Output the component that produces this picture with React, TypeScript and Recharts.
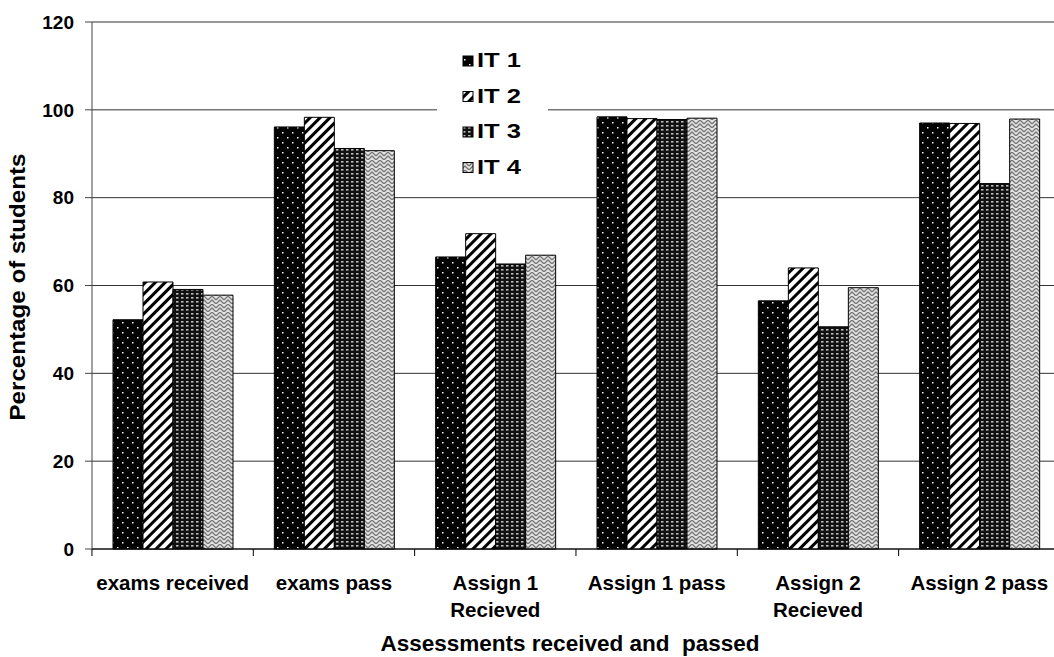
import React from 'react';
import { BarChart, Bar, XAxis, YAxis, CartesianGrid, Legend } from 'recharts';

const categories = ['exams received', 'exams pass', 'Assign 1\nRecieved', 'Assign 1 pass', 'Assign 2\nRecieved', 'Assign 2 pass'];
const it1 = [52.2, 96.1, 66.5, 98.4, 56.5, 97.0];
const it2 = [60.8, 98.3, 71.8, 98.0, 64.0, 96.9];
const it3 = [59.1, 91.2, 64.9, 97.8, 50.6, 83.2];
const it4 = [57.8, 90.7, 66.9, 98.1, 59.5, 97.9];
const seriesNames = ['IT 1', 'IT 2', 'IT 3', 'IT 4'];
const yTicks = [0, 20, 40, 60, 80, 100, 120];

const data = categories.map((c, i) => ({ name: c, it1: it1[i], it2: it2[i], it3: it3[i], it4: it4[i] }));

const FONT = 'Arial, "Liberation Sans", sans-serif';

const Patterns = ({ p }: { p: string }) => (
  <defs>
    <pattern id={`${p}pat1`} width="10" height="10" patternUnits="userSpaceOnUse">
      <rect width="10" height="10" fill="#000" />
      <rect x="2" y="2" width="1.5" height="1.5" fill="#fff" />
      <rect x="7" y="7" width="1.5" height="1.5" fill="#fff" />
    </pattern>
    <pattern id={`${p}pat2`} width="7" height="7" patternUnits="userSpaceOnUse" patternTransform="rotate(45)">
      <rect width="7" height="7" fill="#fff" />
      <rect x="0" y="0" width="3" height="7" fill="#000" />
    </pattern>
    <pattern id={`${p}pat3`} width="5" height="4" patternUnits="userSpaceOnUse">
      <rect width="5" height="4" fill="#111" />
      <rect x="1" y="1" width="2.5" height="1.6" fill="#bbb" />
    </pattern>
    <pattern id={`${p}pat4`} width="8" height="8" patternUnits="userSpaceOnUse">
      <rect width="8" height="8" fill="#e4e4e4" />
      <path d="M0 4 L4 0 L8 4 M0 8 L4 4 L8 8" stroke="#777" strokeWidth="1.3" fill="none" />
    </pattern>
  </defs>
);

const XTick = (props: any) => {
  const { x, payload, index, visibleTicksCount } = props;
  const band = 161.4;
  const lines = String(payload.value).split('\n');
  const axisY = 549;
  return (
    <g>
      <line x1={x - band / 2} y1={axisY} x2={x - band / 2} y2={axisY + 7} stroke="#000" />
      {index === visibleTicksCount - 1 && (
        <line x1={x + band / 2} y1={axisY} x2={x + band / 2} y2={axisY + 7} stroke="#000" />
      )}
      <text x={x} y={axisY + 41} textAnchor="middle" fontFamily={FONT} fontWeight="bold" fontSize={20.5} fill="#000">
        {lines.map((l, i) => (
          <tspan key={i} x={x} dy={i === 0 ? 0 : 27}>{l}</tspan>
        ))}
      </text>
    </g>
  );
};

const LegendContent = () => (
  <div style={{ background: '#fff', width: 111, height: 140, position: 'relative' }}>
    <svg width={111} height={140} style={{ position: 'absolute', left: 0, top: 0 }}>
      <Patterns p="lg" />
      {seriesNames.map((n, i) => (
        <g key={n}>
          <rect x={26} y={14 + i * 35.5} width={10} height={10} fill={`url(#lgpat${i + 1})`} stroke="#000" strokeWidth={1} />
          <text x={40} y={25 + i * 35.5} fontFamily={FONT} fontWeight="bold" fontSize={21} textLength={44} lengthAdjust="spacingAndGlyphs" fill="#000">{n}</text>
        </g>
      ))}
    </svg>
  </div>
);

export default function App() {
  return (
    <div style={{ position: 'fixed', left: 0, top: 0, background: '#fff', width: 1054, height: 657, overflow: 'hidden' }}>
      <BarChart
        width={1054}
        height={657}
        data={data}
        margin={{ top: 22, right: -6, bottom: 0, left: 32 }}
        barCategoryGap={21}
        barGap={0}
      >
        <Patterns p="ch" />
        <CartesianGrid vertical={false} stroke="#333" strokeWidth={1} />
        <XAxis
          dataKey="name"
          tickLine={false}
          axisLine={{ stroke: '#000' }}
          interval={0}
          tick={<XTick />}
          height={108}
          label={{
            content: () => (
              <text x={570} y={651} textAnchor="middle" fontFamily={FONT} fontWeight="bold" fontSize={22.5} fill="#000" style={{ whiteSpace: 'pre' }}>
                {'Assessments received and  passed'}
              </text>
            ),
          }}
        />
        <YAxis
          width={60}
          domain={[0, 120]}
          ticks={yTicks}
          interval={0}
          axisLine={{ stroke: '#444' }}
          tickLine={{ stroke: '#444' }}
          tickSize={7}
          tickMargin={11}
          tick={{ fontFamily: FONT, fontWeight: 'bold', fontSize: 19, fill: '#000' }}
          label={{
            content: () => (
              <text x={25} y={287} transform="rotate(-90 25 287)" textAnchor="middle" fontFamily={FONT} fontWeight="bold" fontSize={22} textLength={267} lengthAdjust="spacingAndGlyphs" fill="#000">
                Percentage of students
              </text>
            ),
          }}
        />
        <Legend
          layout="horizontal"
          verticalAlign="middle"
          align="center"
          content={<LegendContent />}
          wrapperStyle={{ position: 'absolute', left: 437, top: 42, width: 111, height: 140 }}
        />
        <Bar dataKey="it1" name="IT 1" fill="url(#chpat1)" stroke="#000" strokeWidth={1} isAnimationActive={false} />
        <Bar dataKey="it2" name="IT 2" fill="url(#chpat2)" stroke="#000" strokeWidth={1} isAnimationActive={false} />
        <Bar dataKey="it3" name="IT 3" fill="url(#chpat3)" stroke="#000" strokeWidth={1} isAnimationActive={false} />
        <Bar dataKey="it4" name="IT 4" fill="url(#chpat4)" stroke="#000" strokeWidth={1} isAnimationActive={false} />
      </BarChart>
    </div>
  );
}
